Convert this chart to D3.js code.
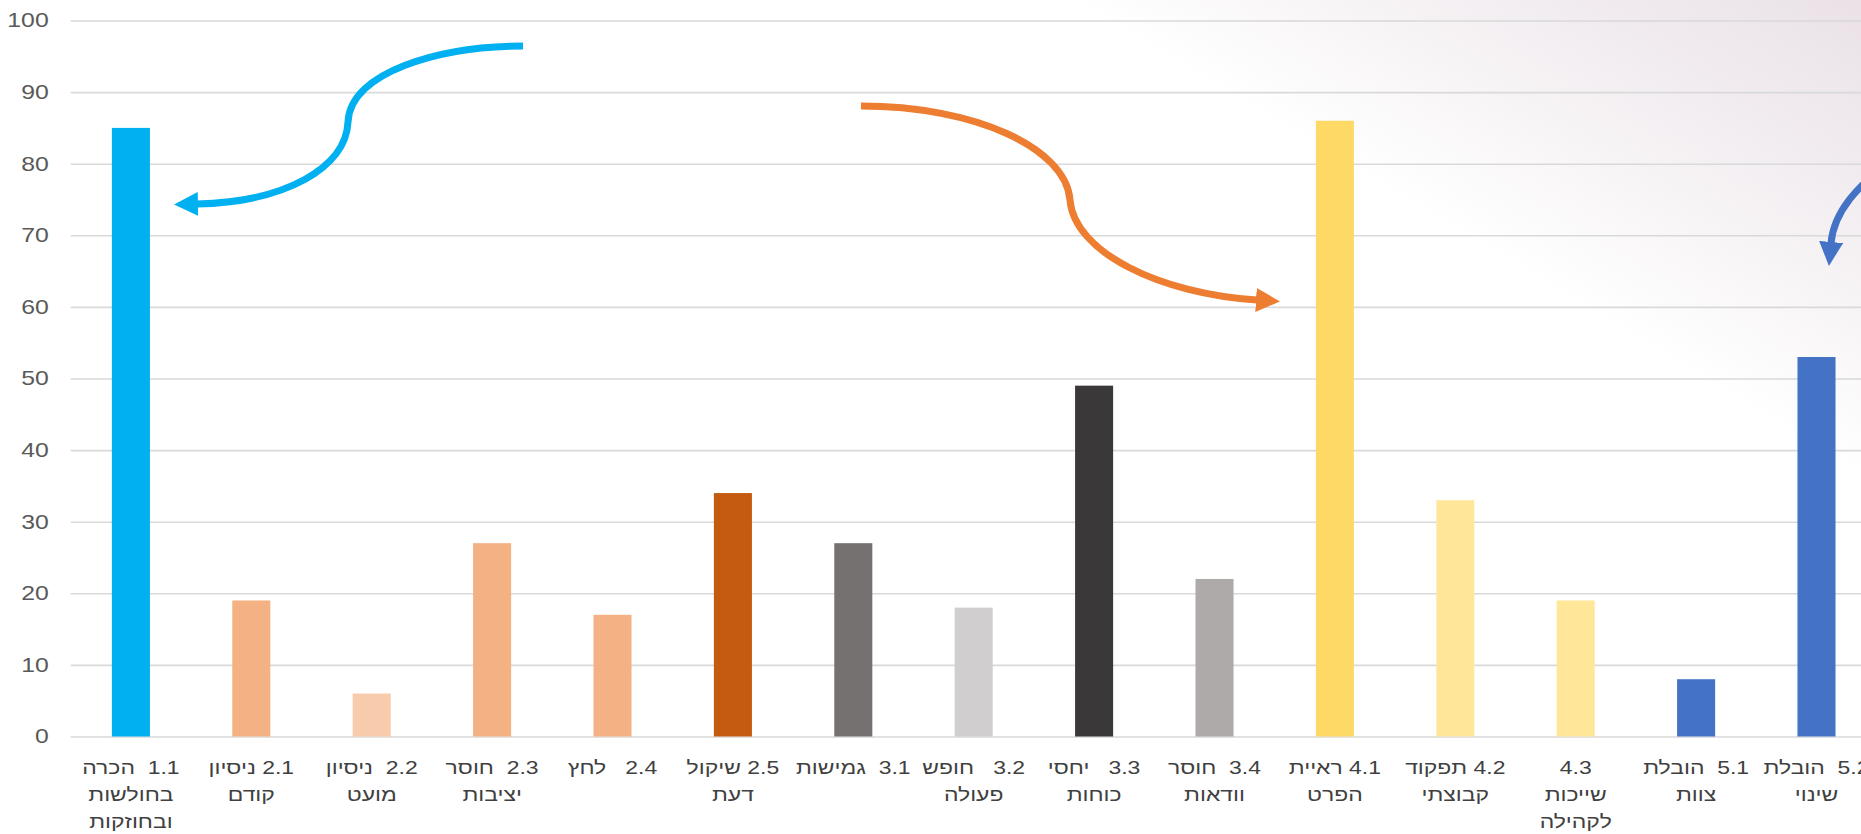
<!DOCTYPE html>
<html>
<head>
<meta charset="utf-8">
<script src="https://cdn.jsdelivr.net/npm/d3@7"></script>
<style>
  body { margin: 0; background: #fff; overflow: hidden; }
</style>
</head>
<body>
<div id="chart"></div>
<script>
// chart data
var codes = ["1.1","2.1","2.2","2.3","2.4","2.5","3.1","3.2","3.3","3.4","4.1","4.2","4.3","5.1","5.2"]
var labelLines = [
  ["1.1  הכרה", "בחולשות", "ובחוזקות"],
  ["2.1 ניסיון", "קודם"],
  ["2.2  ניסיון", "מועט"],
  ["2.3  חוסר", "יציבות"],
  ["2.4   לחץ"],
  ["2.5 שיקול", "דעת"],
  ["3.1  גמישות"],
  ["3.2   חופש", "פעולה"],
  ["3.3   יחסי", "כוחות"],
  ["3.4  חוסר", "וודאות"],
  ["4.1 ראיית", "הפרט"],
  ["4.2 תפקוד", "קבוצתי"],
  ["4.3", "שייכות", "לקהילה"],
  ["5.1  הובלת", "צוות"],
  ["5.2  הובלת", "שינוי"]
]
var values = [85, 19, 6, 27, 17, 34, 27, 18, 49, 22, 86, 33, 19, 8, 53]
var barColors = ["#00B0F0","#F4B183","#F8CBAD","#F4B183","#F4B183","#C55A11",
                 "#767171","#D0CECE","#3A3838","#AEAAAA",
                 "#FFD966","#FFE699","#FFE699","#4472C4","#4472C4"]
var yTicks = [0, 10, 20, 30, 40, 50, 60, 70, 80, 90, 100]

var W = 1861, H = 834
var left = 70.7, step = 120.4
var top0 = 20.5, bottom0 = 736.5
var stretch = 1.24   // the source picture is stretched sideways

var svg = d3.select("#chart").append("svg")
  .attr("width", W)
  .attr("height", H)

var defs = svg.append("defs")

// soft tinted corner top right
var grad = defs.append("linearGradient")
  .attr("id", "bgGrad")
  .attr("gradientUnits", "userSpaceOnUse")
  .attr("x1", 1600).attr("y1", 400)
  .attr("x2", 1900).attr("y2", -100)
grad.append("stop").attr("offset", 0).attr("stop-color", "#ffffff")
grad.append("stop").attr("offset", 0.12).attr("stop-color", "#ffffff")
grad.append("stop").attr("offset", 0.5).attr("stop-color", "#F3EEF1")
grad.append("stop").attr("offset", 0.85).attr("stop-color", "#E9E0E6")
grad.append("stop").attr("offset", 1).attr("stop-color", "#E7DDE3")

svg.append("rect")
  .attr("width", W).attr("height", H)
  .attr("fill", "url(#bgGrad)")

var x = d3.scaleBand()
  .domain(codes)
  .range([left, left + step * codes.length])
  .paddingInner(0.684)
  .paddingOuter(0.342)

var y = d3.scaleLinear()
  .domain([0, 100])
  .range([bottom0, top0])

// y axis with gridlines
var yAxis = svg.append("g")
  .attr("transform", "translate(" + left + ",0)")
  .call(d3.axisLeft(y)
    .tickValues(yTicks)
    .tickSize(-(step * codes.length))
    .tickPadding(22))
yAxis.select(".domain").remove()
yAxis.selectAll(".tick line")
  .attr("stroke", "#D9D9D9")
  .attr("stroke-width", 1.6)
yAxis.selectAll(".tick text")
  .attr("x", -22 / stretch)
  .attr("transform", "scale(" + stretch + ",1)")
  .attr("fill", "#595959")
  .style("font-family", "'Liberation Sans', Arial, sans-serif")
  .style("font-size", "20px")

// bars
svg.selectAll("rect.bar")
  .data(values)
  .enter().append("rect")
  .attr("class", "bar")
  .attr("x", function(d, i) { return x(codes[i]) })
  .attr("y", function(d) { return y(d) })
  .attr("width", x.bandwidth())
  .attr("height", function(d) { return y(0) - y(d) })
  .attr("fill", function(d, i) { return barColors[i] })

// category labels (hebrew, right to left)
var lab = svg.selectAll("g.xlab")
  .data(labelLines)
  .enter().append("g")
  .attr("class", "xlab")
  .attr("transform", function(d, i) {
    return "translate(" + (x(codes[i]) + x.bandwidth() / 2) + ",774) scale(" + stretch + ",1)"
  })
lab.selectAll("text")
  .data(function(d) { return d })
  .enter().append("text")
  .attr("y", function(d, j) { return j * 27 })
  .attr("text-anchor", "middle")
  .attr("direction", "rtl")
  .style("white-space", "pre")
  .style("font-family", "'Liberation Sans', Arial, sans-serif")
  .style("font-size", "18.5px")
  .attr("fill", "#404040")
  .text(function(d) { return d })

// curved arrows
function arrowMarker(id, color) {
  defs.append("marker")
    .attr("id", id)
    .attr("markerUnits", "userSpaceOnUse")
    .attr("viewBox", "0 -12 24 24")
    .attr("refX", 1).attr("refY", 0)
    .attr("markerWidth", 24).attr("markerHeight", 24)
    .attr("orient", "auto")
    .append("path")
    .attr("d", "M0,-12L24,0L0,12Z")
    .attr("fill", color)
}
arrowMarker("headCyan", "#00B0F0")
arrowMarker("headOrange", "#ED7D31")
arrowMarker("headBlue", "#4472C4")

var arrows = [
  { d: "M523,46 C440,46 350,72 348,122 C346,168 285,202 197,204", c: "#00B0F0", m: "headCyan" },
  { d: "M861,106 C975,106 1066,148 1070,200 C1074,252 1160,294 1257,300", c: "#ED7D31", m: "headOrange" },
  { d: "M1885,165 C1860,185 1834,210 1831,243", c: "#4472C4", m: "headBlue" }
]
svg.selectAll("path.arrow")
  .data(arrows)
  .enter().append("path")
  .attr("class", "arrow")
  .attr("d", function(d) { return d.d })
  .attr("fill", "none")
  .attr("stroke", function(d) { return d.c })
  .attr("stroke-width", 7)
  .attr("marker-end", function(d) { return "url(#" + d.m + ")" })
</script>
</body>
</html>
